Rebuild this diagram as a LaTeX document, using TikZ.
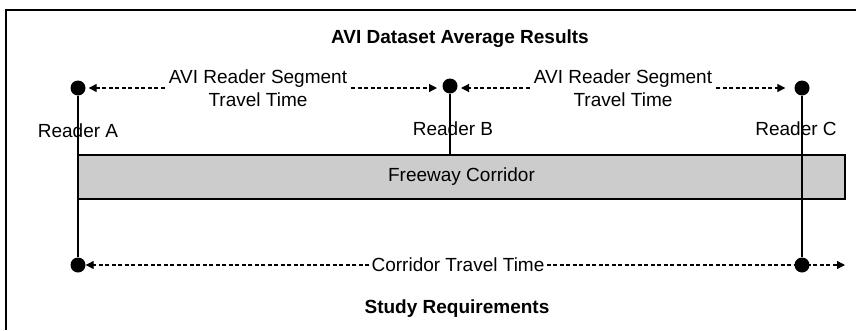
\documentclass[tikz,border=0pt]{standalone}
\usepackage{fontspec}
\setmainfont{Liberation Sans}
\usetikzlibrary{arrows.meta,positioning}

\begin{document}
\begin{tikzpicture}[x=1pt,y=-1pt,>={Triangle[length=8pt,width=8pt]},
  font=\fontsize{19}{23}\selectfont,
  every node/.style={inner sep=0pt},
  reader/.style={circle,fill=black,minimum size=15pt},
  timeline/.style={draw,->,line width=1.2pt,dash pattern=on 4pt off 2.5pt},
  corridor/.style={draw,line width=1.3pt,fill=black!20},
  heading/.style={font=\fontsize{19}{23}\selectfont\bfseries}]
  \useasboundingbox (0,0) rectangle (856,330);
  \draw[line width=1.3pt] (6,330) -- (6,10) -- (856,10);
  \node[heading,anchor=base] (title) at (460,43) {AVI Dataset Average Results};
  \node[heading,anchor=base] (study) at (457,313) {Study Requirements};
  % readers
  \node[reader] (rA) at (78,88) {};
  \node[reader] (rB) at (450,86) {};
  \node[reader] (rC) at (802,88) {};
  \node[anchor=base] (lA) at (78,137) {Reader A};
  \node[anchor=base] (lB) at (453,135) {Reader B};
  \node[anchor=base] (lC) at (796,135) {Reader C};
  \node[corridor,minimum width=767pt,minimum height=44pt] (fwy) at (461.5,177) {Freeway Corridor};
  \node[reader] (bA) at (78,265) {};
  \coordinate (bEnd) at (845,265);
  \draw[line width=1.3pt] (rA) -- (bA);
  \draw[line width=1.3pt] (rB) -- (fwy.north -| rB);
  % segment times
  \node[align=center] (segAB) at (258,88) {AVI Reader Segment\\Travel Time};
  \node[align=center] (segBC) at (623,88) {AVI Reader Segment\\Travel Time};
  \node[inner xsep=2pt] (ctt) at (458,265) {Corridor Travel Time};
  \draw[timeline,shorten >=3pt] ([xshift=-4pt]segAB.west |- rA) -- (rA);
  \draw[timeline,shorten >=13pt] ([xshift=4pt]segAB.east |- rA) -- (rA -| rB);
  \draw[timeline,shorten >=11pt] ([xshift=-4pt]segBC.west |- rA) -- (rA -| rB);
  \draw[timeline,shorten >=9pt] ([xshift=4pt]segBC.east |- rC) -- (rC);
  \draw[timeline] (ctt.west) -- (bA);
  \draw[timeline] (ctt.east) -- (bEnd);
  \node[reader] (bC) at (802,265) {};
  \draw[line width=1.3pt] (rC) -- (bC);
\end{tikzpicture}
\end{document}
